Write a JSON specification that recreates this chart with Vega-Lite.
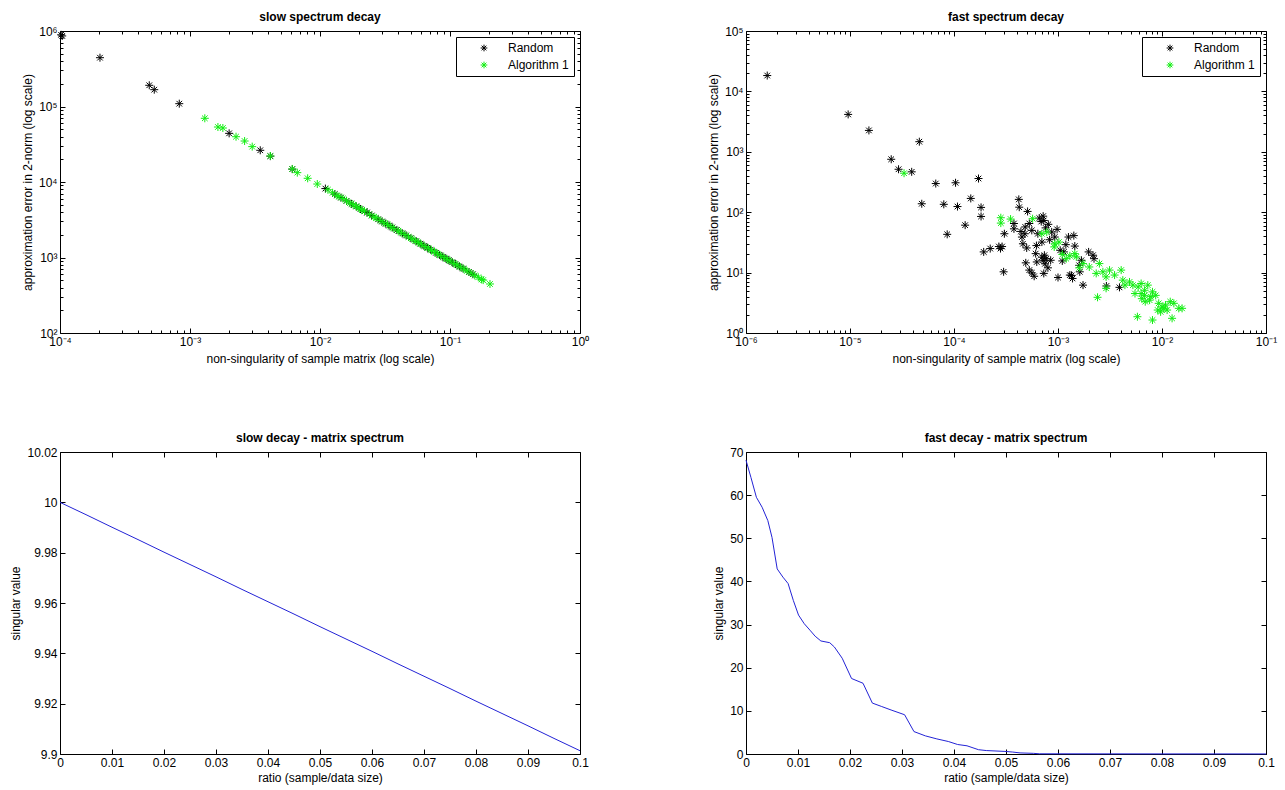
{
  "$schema": "https://vega.github.io/schema/vega-lite/v6.json",
  "padding": {"left": 9, "top": 10, "right": 5, "bottom": 5},
  "config": {
    "font": "Liberation Sans",
    "view": {"stroke": "black", "strokeWidth": 1},
    "axis": {
      "domain": false, "grid": false,
      "labelFont": "Liberation Sans", "labelFontSize": 12, "labelColor": "black",
      "titleFont": "Liberation Sans", "titleFontSize": 12, "titleFontWeight": "normal", "titleColor": "black",
      "tickColor": "black", "tickSize": -5, "labelPadding": 8, "titlePadding": 4,
      "labelFlush": false, "labelOverlap": false
    },
    "title": {"font": "Liberation Sans", "fontSize": 12, "fontWeight": "bold", "color": "black", "offset": 1, "anchor": "middle"},
    "legend": {
      "orient": "top-right", "offset": 6, "title": null,
      "strokeColor": "black", "fillColor": "white", "padding": 5,
      "symbolType": "M-1,0L1,0M0,-1L0,1M-0.7,-0.7L0.7,0.7M-0.7,0.7L0.7,-0.7",
      "symbolSize": 45, "symbolStrokeWidth": 1, "symbolOffset": 17, "labelOffset": 18,
      "labelFont": "Liberation Sans", "labelFontSize": 12, "labelColor": "black", "rowPadding": 5
    }
  },
  "datasets": {
    "slowErr": [
      {"ns": 0.000102, "err": 890000, "method": "Random"},
      {"ns": 0.000104, "err": 860000, "method": "Random"},
      {"ns": 0.000203, "err": 443000, "method": "Random"},
      {"ns": 0.000486, "err": 191000, "method": "Random"},
      {"ns": 0.000531, "err": 167000, "method": "Random"},
      {"ns": 0.000827, "err": 109000, "method": "Random"},
      {"ns": 0.0020, "err": 44100, "method": "Random"},
      {"ns": 0.00347, "err": 26300, "method": "Random"},
      {"ns": 0.00415, "err": 22000, "method": "Random"},
      {"ns": 0.00612, "err": 14800, "method": "Random"},
      {"ns": 0.011, "err": 8180, "method": "Random"},
      {"ns": 0.013, "err": 6920, "method": "Random"},
      {"ns": 0.0145, "err": 6210, "method": "Random"},
      {"ns": 0.016, "err": 5620, "method": "Random"},
      {"ns": 0.0175, "err": 5140, "method": "Random"},
      {"ns": 0.019, "err": 4740, "method": "Random"},
      {"ns": 0.0205, "err": 4390, "method": "Random"},
      {"ns": 0.022, "err": 4090, "method": "Random"},
      {"ns": 0.023, "err": 3950, "method": "Random"},
      {"ns": 0.025, "err": 3600, "method": "Random"},
      {"ns": 0.028, "err": 3210, "method": "Random"},
      {"ns": 0.030, "err": 3000, "method": "Random"},
      {"ns": 0.032, "err": 2810, "method": "Random"},
      {"ns": 0.034, "err": 2650, "method": "Random"},
      {"ns": 0.036, "err": 2500, "method": "Random"},
      {"ns": 0.039, "err": 2310, "method": "Random"},
      {"ns": 0.043, "err": 2090, "method": "Random"},
      {"ns": 0.046, "err": 1960, "method": "Random"},
      {"ns": 0.050, "err": 1800, "method": "Random"},
      {"ns": 0.055, "err": 1640, "method": "Random"},
      {"ns": 0.059, "err": 1525, "method": "Random"},
      {"ns": 0.063, "err": 1430, "method": "Random"},
      {"ns": 0.067, "err": 1345, "method": "Random"},
      {"ns": 0.071, "err": 1270, "method": "Random"},
      {"ns": 0.078, "err": 1155, "method": "Random"},
      {"ns": 0.083, "err": 1085, "method": "Random"},
      {"ns": 0.088, "err": 1023, "method": "Random"},
      {"ns": 0.093, "err": 968, "method": "Random"},
      {"ns": 0.098, "err": 918, "method": "Random"},
      {"ns": 0.104, "err": 865, "method": "Random"},
      {"ns": 0.110, "err": 818, "method": "Random"},
      {"ns": 0.118, "err": 763, "method": "Random"},
      {"ns": 0.126, "err": 714, "method": "Random"},
      {"ns": 0.140, "err": 643, "method": "Random"},
      {"ns": 0.150, "err": 600, "method": "Random"},
      {"ns": 0.0013, "err": 69800, "method": "Algorithm 1"},
      {"ns": 0.00164, "err": 53500, "method": "Algorithm 1"},
      {"ns": 0.00179, "err": 51900, "method": "Algorithm 1"},
      {"ns": 0.00226, "err": 39800, "method": "Algorithm 1"},
      {"ns": 0.00263, "err": 34900, "method": "Algorithm 1"},
      {"ns": 0.00301, "err": 29400, "method": "Algorithm 1"},
      {"ns": 0.00415, "err": 22100, "method": "Algorithm 1"},
      {"ns": 0.00612, "err": 14900, "method": "Algorithm 1"},
      {"ns": 0.00669, "err": 13300, "method": "Algorithm 1"},
      {"ns": 0.00804, "err": 11200, "method": "Algorithm 1"},
      {"ns": 0.00953, "err": 9400, "method": "Algorithm 1"},
      {"ns": 0.0115, "err": 7900, "method": "Algorithm 1"},
      {"ns": 0.0125, "err": 7200, "method": "Algorithm 1"},
      {"ns": 0.0135, "err": 6600, "method": "Algorithm 1"},
      {"ns": 0.014, "err": 6430, "method": "Algorithm 1"},
      {"ns": 0.015, "err": 6050, "method": "Algorithm 1"},
      {"ns": 0.016, "err": 5630, "method": "Algorithm 1"},
      {"ns": 0.017, "err": 5250, "method": "Algorithm 1"},
      {"ns": 0.018, "err": 5000, "method": "Algorithm 1"},
      {"ns": 0.019, "err": 4780, "method": "Algorithm 1"},
      {"ns": 0.020, "err": 4500, "method": "Algorithm 1"},
      {"ns": 0.021, "err": 4260, "method": "Algorithm 1"},
      {"ns": 0.022, "err": 4120, "method": "Algorithm 1"},
      {"ns": 0.024, "err": 3750, "method": "Algorithm 1"},
      {"ns": 0.026, "err": 3430, "method": "Algorithm 1"},
      {"ns": 0.027, "err": 3360, "method": "Algorithm 1"},
      {"ns": 0.029, "err": 3100, "method": "Algorithm 1"},
      {"ns": 0.031, "err": 2880, "method": "Algorithm 1"},
      {"ns": 0.033, "err": 2750, "method": "Algorithm 1"},
      {"ns": 0.035, "err": 2570, "method": "Algorithm 1"},
      {"ns": 0.037, "err": 2410, "method": "Algorithm 1"},
      {"ns": 0.040, "err": 2260, "method": "Algorithm 1"},
      {"ns": 0.042, "err": 2130, "method": "Algorithm 1"},
      {"ns": 0.045, "err": 2010, "method": "Algorithm 1"},
      {"ns": 0.048, "err": 1870, "method": "Algorithm 1"},
      {"ns": 0.051, "err": 1770, "method": "Algorithm 1"},
      {"ns": 0.054, "err": 1660, "method": "Algorithm 1"},
      {"ns": 0.057, "err": 1585, "method": "Algorithm 1"},
      {"ns": 0.060, "err": 1500, "method": "Algorithm 1"},
      {"ns": 0.064, "err": 1400, "method": "Algorithm 1"},
      {"ns": 0.068, "err": 1330, "method": "Algorithm 1"},
      {"ns": 0.072, "err": 1245, "method": "Algorithm 1"},
      {"ns": 0.076, "err": 1190, "method": "Algorithm 1"},
      {"ns": 0.080, "err": 1120, "method": "Algorithm 1"},
      {"ns": 0.085, "err": 1065, "method": "Algorithm 1"},
      {"ns": 0.090, "err": 995, "method": "Algorithm 1"},
      {"ns": 0.095, "err": 950, "method": "Algorithm 1"},
      {"ns": 0.100, "err": 900, "method": "Algorithm 1"},
      {"ns": 0.107, "err": 838, "method": "Algorithm 1"},
      {"ns": 0.113, "err": 799, "method": "Algorithm 1"},
      {"ns": 0.120, "err": 748, "method": "Algorithm 1"},
      {"ns": 0.128, "err": 705, "method": "Algorithm 1"},
      {"ns": 0.135, "err": 664, "method": "Algorithm 1"},
      {"ns": 0.145, "err": 623, "method": "Algorithm 1"},
      {"ns": 0.155, "err": 579, "method": "Algorithm 1"},
      {"ns": 0.165, "err": 547, "method": "Algorithm 1"},
      {"ns": 0.175, "err": 512, "method": "Algorithm 1"},
      {"ns": 0.180, "err": 502, "method": "Algorithm 1"},
      {"ns": 0.203, "err": 446, "method": "Algorithm 1"}
    ],
    "fastErr": [
      {"ns": 0.0000016, "err": 18300, "method": "Random"},
      {"ns": 0.0000096, "err": 4160, "method": "Random"},
      {"ns": 0.0000152, "err": 2260, "method": "Random"},
      {"ns": 0.0000464, "err": 1470, "method": "Random"},
      {"ns": 0.0000249, "err": 752, "method": "Random"},
      {"ns": 0.0000293, "err": 514, "method": "Random"},
      {"ns": 0.0000392, "err": 466, "method": "Random"},
      {"ns": 0.0000668, "err": 298, "method": "Random"},
      {"ns": 0.0001035, "err": 307, "method": "Random"},
      {"ns": 0.000172, "err": 361, "method": "Random"},
      {"ns": 0.000145, "err": 169, "method": "Random"},
      {"ns": 0.00042, "err": 163, "method": "Random"},
      {"ns": 0.000049, "err": 138, "method": "Random"},
      {"ns": 0.0000798, "err": 135, "method": "Random"},
      {"ns": 0.000108, "err": 124, "method": "Random"},
      {"ns": 0.000182, "err": 120, "method": "Random"},
      {"ns": 0.000182, "err": 85, "method": "Random"},
      {"ns": 0.000128, "err": 61, "method": "Random"},
      {"ns": 0.000086, "err": 43, "method": "Random"},
      {"ns": 0.000424, "err": 121, "method": "Random"},
      {"ns": 0.00051, "err": 103, "method": "Random"},
      {"ns": 0.000377, "err": 65, "method": "Random"},
      {"ns": 0.000377, "err": 53, "method": "Random"},
      {"ns": 0.000305, "err": 44, "method": "Random"},
      {"ns": 0.00072, "err": 86, "method": "Random"},
      {"ns": 0.00073, "err": 73, "method": "Random"},
      {"ns": 0.000807, "err": 63, "method": "Random"},
      {"ns": 0.000484, "err": 57, "method": "Random"},
      {"ns": 0.00048, "err": 44, "method": "Random"},
      {"ns": 0.00056, "err": 50, "method": "Random"},
      {"ns": 0.00064, "err": 44, "method": "Random"},
      {"ns": 0.00087, "err": 47, "method": "Random"},
      {"ns": 0.00045, "err": 38.8, "method": "Random"},
      {"ns": 0.00046, "err": 30, "method": "Random"},
      {"ns": 0.0005, "err": 25.6, "method": "Random"},
      {"ns": 0.0007, "err": 32, "method": "Random"},
      {"ns": 0.00093, "err": 38.8, "method": "Random"},
      {"ns": 0.00119, "err": 29, "method": "Random"},
      {"ns": 0.000223, "err": 25, "method": "Random"},
      {"ns": 0.000193, "err": 22, "method": "Random"},
      {"ns": 0.00027, "err": 27, "method": "Random"},
      {"ns": 0.00029, "err": 27, "method": "Random"},
      {"ns": 0.00028, "err": 25, "method": "Random"},
      {"ns": 0.0003, "err": 10.3, "method": "Random"},
      {"ns": 0.00061, "err": 20.6, "method": "Random"},
      {"ns": 0.00074, "err": 19.4, "method": "Random"},
      {"ns": 0.00072, "err": 16, "method": "Random"},
      {"ns": 0.00077, "err": 17, "method": "Random"},
      {"ns": 0.00049, "err": 14.5, "method": "Random"},
      {"ns": 0.000625, "err": 15, "method": "Random"},
      {"ns": 0.00085, "err": 16, "method": "Random"},
      {"ns": 0.0011, "err": 15.6, "method": "Random"},
      {"ns": 0.00105, "err": 23.4, "method": "Random"},
      {"ns": 0.00114, "err": 22, "method": "Random"},
      {"ns": 0.00056, "err": 9.9, "method": "Random"},
      {"ns": 0.00059, "err": 8.7, "method": "Random"},
      {"ns": 0.00053, "err": 11, "method": "Random"},
      {"ns": 0.00073, "err": 9.7, "method": "Random"},
      {"ns": 0.001, "err": 8.3, "method": "Random"},
      {"ns": 0.0013, "err": 9.1, "method": "Random"},
      {"ns": 0.00126, "err": 38.8, "method": "Random"},
      {"ns": 0.00142, "err": 41, "method": "Random"},
      {"ns": 0.00145, "err": 27.5, "method": "Random"},
      {"ns": 0.00135, "err": 9, "method": "Random"},
      {"ns": 0.00138, "err": 8, "method": "Random"},
      {"ns": 0.00174, "err": 6.2, "method": "Random"},
      {"ns": 0.00197, "err": 22, "method": "Random"},
      {"ns": 0.00217, "err": 19.4, "method": "Random"},
      {"ns": 0.00222, "err": 17, "method": "Random"},
      {"ns": 0.00168, "err": 16, "method": "Random"},
      {"ns": 0.0016, "err": 13.2, "method": "Random"},
      {"ns": 0.00162, "err": 10.3, "method": "Random"},
      {"ns": 0.0039, "err": 5.7, "method": "Random"},
      {"ns": 0.00292, "err": 6.0, "method": "Random"},
      {"ns": 0.00066, "err": 80, "method": "Random"},
      {"ns": 0.00069, "err": 70, "method": "Random"},
      {"ns": 0.00076, "err": 55, "method": "Random"},
      {"ns": 0.00083, "err": 35, "method": "Random"},
      {"ns": 0.00062, "err": 28, "method": "Random"},
      {"ns": 0.0007, "err": 18, "method": "Random"},
      {"ns": 0.00075, "err": 14, "method": "Random"},
      {"ns": 0.0008, "err": 12, "method": "Random"},
      {"ns": 0.00053, "err": 65, "method": "Random"},
      {"ns": 0.00044, "err": 48, "method": "Random"},
      {"ns": 0.00098, "err": 52, "method": "Random"},
      {"ns": 0.0000331, "err": 442, "method": "Algorithm 1"},
      {"ns": 0.000282, "err": 81, "method": "Algorithm 1"},
      {"ns": 0.000282, "err": 66, "method": "Algorithm 1"},
      {"ns": 0.00035, "err": 77, "method": "Algorithm 1"},
      {"ns": 0.00057, "err": 78, "method": "Algorithm 1"},
      {"ns": 0.000698, "err": 44, "method": "Algorithm 1"},
      {"ns": 0.00078, "err": 47, "method": "Algorithm 1"},
      {"ns": 0.00102, "err": 32, "method": "Algorithm 1"},
      {"ns": 0.00092, "err": 26.6, "method": "Algorithm 1"},
      {"ns": 0.00093, "err": 30, "method": "Algorithm 1"},
      {"ns": 0.0011, "err": 20, "method": "Algorithm 1"},
      {"ns": 0.0012, "err": 17, "method": "Algorithm 1"},
      {"ns": 0.0013, "err": 19, "method": "Algorithm 1"},
      {"ns": 0.00145, "err": 20.6, "method": "Algorithm 1"},
      {"ns": 0.0015, "err": 18.2, "method": "Algorithm 1"},
      {"ns": 0.0016, "err": 12, "method": "Algorithm 1"},
      {"ns": 0.00174, "err": 14.1, "method": "Algorithm 1"},
      {"ns": 0.002, "err": 12.4, "method": "Algorithm 1"},
      {"ns": 0.0025, "err": 14.1, "method": "Algorithm 1"},
      {"ns": 0.00233, "err": 9.7, "method": "Algorithm 1"},
      {"ns": 0.0027, "err": 10.3, "method": "Algorithm 1"},
      {"ns": 0.00313, "err": 11, "method": "Algorithm 1"},
      {"ns": 0.0029, "err": 8.5, "method": "Algorithm 1"},
      {"ns": 0.0035, "err": 9.1, "method": "Algorithm 1"},
      {"ns": 0.00405, "err": 11, "method": "Algorithm 1"},
      {"ns": 0.0042, "err": 7.5, "method": "Algorithm 1"},
      {"ns": 0.0029, "err": 5.5, "method": "Algorithm 1"},
      {"ns": 0.00487, "err": 7.0, "method": "Algorithm 1"},
      {"ns": 0.0044, "err": 6.2, "method": "Algorithm 1"},
      {"ns": 0.0024, "err": 3.9, "method": "Algorithm 1"},
      {"ns": 0.00525, "err": 6.2, "method": "Algorithm 1"},
      {"ns": 0.0059, "err": 5.8, "method": "Algorithm 1"},
      {"ns": 0.0063, "err": 6.6, "method": "Algorithm 1"},
      {"ns": 0.0068, "err": 5.1, "method": "Algorithm 1"},
      {"ns": 0.0073, "err": 6.2, "method": "Algorithm 1"},
      {"ns": 0.0081, "err": 4.8, "method": "Algorithm 1"},
      {"ns": 0.0087, "err": 4.2, "method": "Algorithm 1"},
      {"ns": 0.0078, "err": 4.0, "method": "Algorithm 1"},
      {"ns": 0.0064, "err": 3.7, "method": "Algorithm 1"},
      {"ns": 0.0069, "err": 3.3, "method": "Algorithm 1"},
      {"ns": 0.0058, "err": 1.86, "method": "Algorithm 1"},
      {"ns": 0.0081, "err": 1.64, "method": "Algorithm 1"},
      {"ns": 0.0091, "err": 2.4, "method": "Algorithm 1"},
      {"ns": 0.0093, "err": 3.1, "method": "Algorithm 1"},
      {"ns": 0.010, "err": 2.7, "method": "Algorithm 1"},
      {"ns": 0.0108, "err": 2.9, "method": "Algorithm 1"},
      {"ns": 0.0112, "err": 2.4, "method": "Algorithm 1"},
      {"ns": 0.012, "err": 3.3, "method": "Algorithm 1"},
      {"ns": 0.013, "err": 3.1, "method": "Algorithm 1"},
      {"ns": 0.0145, "err": 2.56, "method": "Algorithm 1"},
      {"ns": 0.0125, "err": 1.75, "method": "Algorithm 1"},
      {"ns": 0.0097, "err": 2.24, "method": "Algorithm 1"},
      {"ns": 0.0104, "err": 2.56, "method": "Algorithm 1"},
      {"ns": 0.0156, "err": 2.56, "method": "Algorithm 1"},
      {"ns": 0.0068, "err": 4.2, "method": "Algorithm 1"},
      {"ns": 0.0076, "err": 3.5, "method": "Algorithm 1"},
      {"ns": 0.0055, "err": 4.5, "method": "Algorithm 1"},
      {"ns": 0.0063, "err": 4.5, "method": "Algorithm 1"}
    ],
    "slowSpec": [
      {"ratio": 0, "sv": 10.0}, {"ratio": 0.005, "sv": 9.9951}, {"ratio": 0.01, "sv": 9.9901},
      {"ratio": 0.015, "sv": 9.9852}, {"ratio": 0.02, "sv": 9.9802}, {"ratio": 0.025, "sv": 9.9753},
      {"ratio": 0.03, "sv": 9.9704}, {"ratio": 0.035, "sv": 9.9654}, {"ratio": 0.04, "sv": 9.9605},
      {"ratio": 0.045, "sv": 9.9556}, {"ratio": 0.05, "sv": 9.9506}, {"ratio": 0.055, "sv": 9.9457},
      {"ratio": 0.06, "sv": 9.9408}, {"ratio": 0.065, "sv": 9.9358}, {"ratio": 0.07, "sv": 9.9309},
      {"ratio": 0.075, "sv": 9.926}, {"ratio": 0.08, "sv": 9.921}, {"ratio": 0.085, "sv": 9.9161},
      {"ratio": 0.09, "sv": 9.9112}, {"ratio": 0.095, "sv": 9.9062}, {"ratio": 0.1, "sv": 9.9013}
    ],
    "fastSpec": [
      {"ratio": 0, "sv": 68.1}, {"ratio": 0.00095, "sv": 64.1}, {"ratio": 0.002, "sv": 59.5},
      {"ratio": 0.0031, "sv": 57.2}, {"ratio": 0.0042, "sv": 54.1}, {"ratio": 0.005, "sv": 50.2},
      {"ratio": 0.006, "sv": 42.9}, {"ratio": 0.0071, "sv": 41.0}, {"ratio": 0.0081, "sv": 39.5},
      {"ratio": 0.0091, "sv": 35.6}, {"ratio": 0.0101, "sv": 32.2}, {"ratio": 0.0112, "sv": 30.2},
      {"ratio": 0.0123, "sv": 28.7}, {"ratio": 0.0133, "sv": 27.3}, {"ratio": 0.0144, "sv": 26.2},
      {"ratio": 0.0161, "sv": 25.8}, {"ratio": 0.017, "sv": 24.8}, {"ratio": 0.0185, "sv": 22.2},
      {"ratio": 0.0203, "sv": 17.5}, {"ratio": 0.0225, "sv": 16.4}, {"ratio": 0.0243, "sv": 11.8},
      {"ratio": 0.0261, "sv": 11.0}, {"ratio": 0.0279, "sv": 10.2}, {"ratio": 0.0305, "sv": 9.1},
      {"ratio": 0.0323, "sv": 5.2}, {"ratio": 0.0345, "sv": 4.2}, {"ratio": 0.0367, "sv": 3.5},
      {"ratio": 0.0389, "sv": 2.9}, {"ratio": 0.0407, "sv": 2.2}, {"ratio": 0.0425, "sv": 1.9},
      {"ratio": 0.0447, "sv": 1.0}, {"ratio": 0.0462, "sv": 0.8}, {"ratio": 0.0498, "sv": 0.6},
      {"ratio": 0.0513, "sv": 0.45}, {"ratio": 0.0527, "sv": 0.25}, {"ratio": 0.0553, "sv": 0.15},
      {"ratio": 0.0564, "sv": 0.05}, {"ratio": 0.06, "sv": 0.04}, {"ratio": 0.07, "sv": 0.03},
      {"ratio": 0.08, "sv": 0.02}, {"ratio": 0.09, "sv": 0.02}, {"ratio": 0.1, "sv": 0.01}
    ]
  },
  "columns": 2,
  "spacing": {"row": 119, "column": 166},
  "bounds": "flush",
  "resolve": {"scale": {"color": "independent"}, "legend": {"color": "independent"}},
  "concat": [
    {
      "width": 520, "height": 302,
      "title": "slow spectrum decay",
      "data": {"name": "slowErr"},
      "layer": [
        {
          "mark": {"type": "point", "shape": "M-1,0L1,0M0,-1L0,1M-0.7,-0.7L0.7,0.7M-0.7,0.7L0.7,-0.7", "filled": false, "size": 64, "strokeWidth": 1, "opacity": 1},
          "encoding": {
            "x": {"field": "ns", "type": "quantitative", "scale": {"type": "log", "domain": [0.0001, 1], "nice": false},
              "axis": {"orient": "bottom", "title": "non-singularity of sample matrix (log scale)",
                "values": [0.0001,0.0002,0.0003,0.0004,0.0005,0.0006,0.0007,0.0008,0.0009,0.001,0.002,0.003,0.004,0.005,0.006,0.007,0.008,0.009,0.01,0.02,0.03,0.04,0.05,0.06,0.07,0.08,0.09,0.1,0.2,0.3,0.4,0.5,0.6,0.7,0.8,0.9,1],
                "tickSize": {"condition": {"test": "abs(log(datum.value)/LN10 - round(log(datum.value)/LN10)) < 0.01", "value": -5}, "value": -3},
                "labelExpr": "abs(log(datum.value)/LN10 - round(log(datum.value)/LN10)) < 0.01 ? '10' + {'-6':'⁻⁶','-5':'⁻⁵','-4':'⁻⁴','-3':'⁻³','-2':'⁻²','-1':'⁻¹','0':'⁰','1':'¹','2':'²','3':'³','4':'⁴','5':'⁵','6':'⁶'}['' + round(log(datum.value)/LN10)] : ''"}},
            "y": {"field": "err", "type": "quantitative", "scale": {"type": "log", "domain": [100, 1000000], "nice": false},
              "axis": {"orient": "left", "title": "approximation error in 2-norm (log scale)",
                "values": [100,200,300,400,500,600,700,800,900,1000,2000,3000,4000,5000,6000,7000,8000,9000,10000,20000,30000,40000,50000,60000,70000,80000,90000,100000,200000,300000,400000,500000,600000,700000,800000,900000,1000000],
                "tickSize": {"condition": {"test": "abs(log(datum.value)/LN10 - round(log(datum.value)/LN10)) < 0.01", "value": -5}, "value": -3},
                "labelExpr": "abs(log(datum.value)/LN10 - round(log(datum.value)/LN10)) < 0.01 ? '10' + {'-6':'⁻⁶','-5':'⁻⁵','-4':'⁻⁴','-3':'⁻³','-2':'⁻²','-1':'⁻¹','0':'⁰','1':'¹','2':'²','3':'³','4':'⁴','5':'⁵','6':'⁶'}['' + round(log(datum.value)/LN10)] : ''"}},
            "color": {"field": "method", "type": "nominal", "sort": null,
              "scale": {"domain": ["Random", "Algorithm 1"], "range": ["#000000", "#11ee11"]},
              "legend": {"title": null}}
          }
        },
        {
          "mark": {"type": "point", "opacity": 0},
          "encoding": {
            "x": {"field": "ns", "type": "quantitative", "scale": {"type": "log", "domain": [0.0001, 1], "nice": false},
              "axis": {"orient": "top", "title": null, "labels": false,
                "values": [0.0001,0.0002,0.0003,0.0004,0.0005,0.0006,0.0007,0.0008,0.0009,0.001,0.002,0.003,0.004,0.005,0.006,0.007,0.008,0.009,0.01,0.02,0.03,0.04,0.05,0.06,0.07,0.08,0.09,0.1,0.2,0.3,0.4,0.5,0.6,0.7,0.8,0.9,1],
                "tickSize": {"condition": {"test": "abs(log(datum.value)/LN10 - round(log(datum.value)/LN10)) < 0.01", "value": -5}, "value": -3}}},
            "y": {"field": "err", "type": "quantitative", "scale": {"type": "log", "domain": [100, 1000000], "nice": false},
              "axis": {"orient": "right", "title": null, "labels": false,
                "values": [100,200,300,400,500,600,700,800,900,1000,2000,3000,4000,5000,6000,7000,8000,9000,10000,20000,30000,40000,50000,60000,70000,80000,90000,100000,200000,300000,400000,500000,600000,700000,800000,900000,1000000],
                "tickSize": {"condition": {"test": "abs(log(datum.value)/LN10 - round(log(datum.value)/LN10)) < 0.01", "value": -5}, "value": -3}}}
          }
        }
      ]
    },
    {
      "width": 520, "height": 302,
      "title": "fast spectrum decay",
      "data": {"name": "fastErr"},
      "layer": [
        {
          "mark": {"type": "point", "shape": "M-1,0L1,0M0,-1L0,1M-0.7,-0.7L0.7,0.7M-0.7,0.7L0.7,-0.7", "filled": false, "size": 64, "strokeWidth": 1, "opacity": 1},
          "encoding": {
            "x": {"field": "ns", "type": "quantitative", "scale": {"type": "log", "domain": [0.000001, 0.1], "nice": false},
              "axis": {"orient": "bottom", "title": "non-singularity of sample matrix (log scale)",
                "values": [0.000001,0.000002,0.000003,0.000004,0.000005,0.000006,0.000007,0.000008,0.000009,0.00001,0.00002,0.00003,0.00004,0.00005,0.00006,0.00007,0.00008,0.00009,0.0001,0.0002,0.0003,0.0004,0.0005,0.0006,0.0007,0.0008,0.0009,0.001,0.002,0.003,0.004,0.005,0.006,0.007,0.008,0.009,0.01,0.02,0.03,0.04,0.05,0.06,0.07,0.08,0.09,0.1],
                "tickSize": {"condition": {"test": "abs(log(datum.value)/LN10 - round(log(datum.value)/LN10)) < 0.01", "value": -5}, "value": -3},
                "labelExpr": "abs(log(datum.value)/LN10 - round(log(datum.value)/LN10)) < 0.01 ? '10' + {'-6':'⁻⁶','-5':'⁻⁵','-4':'⁻⁴','-3':'⁻³','-2':'⁻²','-1':'⁻¹','0':'⁰','1':'¹','2':'²','3':'³','4':'⁴','5':'⁵','6':'⁶'}['' + round(log(datum.value)/LN10)] : ''"}},
            "y": {"field": "err", "type": "quantitative", "scale": {"type": "log", "domain": [1, 100000], "nice": false},
              "axis": {"orient": "left", "title": "approximation error in 2-norm (log scale)",
                "values": [1,2,3,4,5,6,7,8,9,10,20,30,40,50,60,70,80,90,100,200,300,400,500,600,700,800,900,1000,2000,3000,4000,5000,6000,7000,8000,9000,10000,20000,30000,40000,50000,60000,70000,80000,90000,100000],
                "tickSize": {"condition": {"test": "abs(log(datum.value)/LN10 - round(log(datum.value)/LN10)) < 0.01", "value": -5}, "value": -3},
                "labelExpr": "abs(log(datum.value)/LN10 - round(log(datum.value)/LN10)) < 0.01 ? '10' + {'-6':'⁻⁶','-5':'⁻⁵','-4':'⁻⁴','-3':'⁻³','-2':'⁻²','-1':'⁻¹','0':'⁰','1':'¹','2':'²','3':'³','4':'⁴','5':'⁵','6':'⁶'}['' + round(log(datum.value)/LN10)] : ''"}},
            "color": {"field": "method", "type": "nominal", "sort": null,
              "scale": {"domain": ["Random", "Algorithm 1"], "range": ["#000000", "#11ee11"]},
              "legend": {"title": null}}
          }
        },
        {
          "mark": {"type": "point", "opacity": 0},
          "encoding": {
            "x": {"field": "ns", "type": "quantitative", "scale": {"type": "log", "domain": [0.000001, 0.1], "nice": false},
              "axis": {"orient": "top", "title": null, "labels": false,
                "values": [0.000001,0.000002,0.000003,0.000004,0.000005,0.000006,0.000007,0.000008,0.000009,0.00001,0.00002,0.00003,0.00004,0.00005,0.00006,0.00007,0.00008,0.00009,0.0001,0.0002,0.0003,0.0004,0.0005,0.0006,0.0007,0.0008,0.0009,0.001,0.002,0.003,0.004,0.005,0.006,0.007,0.008,0.009,0.01,0.02,0.03,0.04,0.05,0.06,0.07,0.08,0.09,0.1],
                "tickSize": {"condition": {"test": "abs(log(datum.value)/LN10 - round(log(datum.value)/LN10)) < 0.01", "value": -5}, "value": -3}}},
            "y": {"field": "err", "type": "quantitative", "scale": {"type": "log", "domain": [1, 100000], "nice": false},
              "axis": {"orient": "right", "title": null, "labels": false,
                "values": [1,2,3,4,5,6,7,8,9,10,20,30,40,50,60,70,80,90,100,200,300,400,500,600,700,800,900,1000,2000,3000,4000,5000,6000,7000,8000,9000,10000,20000,30000,40000,50000,60000,70000,80000,90000,100000],
                "tickSize": {"condition": {"test": "abs(log(datum.value)/LN10 - round(log(datum.value)/LN10)) < 0.01", "value": -5}, "value": -3}}}
          }
        }
      ]
    },
    {
      "width": 520, "height": 302,
      "title": "slow decay - matrix spectrum",
      "data": {"name": "slowSpec"},
      "layer": [
        {
          "mark": {"type": "line", "color": "#2323d6", "strokeWidth": 1},
          "encoding": {
            "x": {"field": "ratio", "type": "quantitative", "scale": {"domain": [0, 0.1], "nice": false, "zero": false},
              "axis": {"orient": "bottom", "title": "ratio (sample/data size)", "values": [0,0.01,0.02,0.03,0.04,0.05,0.06,0.07,0.08,0.09,0.1], "format": "~r"}},
            "y": {"field": "sv", "type": "quantitative", "scale": {"domain": [9.9, 10.02], "nice": false, "zero": false},
              "axis": {"orient": "left", "title": "singular value", "values": [9.9,9.92,9.94,9.96,9.98,10,10.02], "format": "~r"}}
          }
        },
        {
          "mark": {"type": "line", "opacity": 0},
          "encoding": {
            "x": {"field": "ratio", "type": "quantitative", "scale": {"domain": [0, 0.1], "nice": false, "zero": false},
              "axis": {"orient": "top", "title": null, "labels": false, "values": [0,0.01,0.02,0.03,0.04,0.05,0.06,0.07,0.08,0.09,0.1]}},
            "y": {"field": "sv", "type": "quantitative", "scale": {"domain": [9.9, 10.02], "nice": false, "zero": false},
              "axis": {"orient": "right", "title": null, "labels": false, "values": [9.9,9.92,9.94,9.96,9.98,10,10.02]}}
          }
        }
      ]
    },
    {
      "width": 520, "height": 302,
      "title": "fast decay - matrix spectrum",
      "data": {"name": "fastSpec"},
      "layer": [
        {
          "mark": {"type": "line", "color": "#2323d6", "strokeWidth": 1},
          "encoding": {
            "x": {"field": "ratio", "type": "quantitative", "scale": {"domain": [0, 0.1], "nice": false, "zero": false},
              "axis": {"orient": "bottom", "title": "ratio (sample/data size)", "values": [0,0.01,0.02,0.03,0.04,0.05,0.06,0.07,0.08,0.09,0.1], "format": "~r"}},
            "y": {"field": "sv", "type": "quantitative", "scale": {"domain": [0, 70], "nice": false},
              "axis": {"orient": "left", "title": "singular value", "values": [0,10,20,30,40,50,60,70], "format": "~r"}}
          }
        },
        {
          "mark": {"type": "line", "opacity": 0},
          "encoding": {
            "x": {"field": "ratio", "type": "quantitative", "scale": {"domain": [0, 0.1], "nice": false, "zero": false},
              "axis": {"orient": "top", "title": null, "labels": false, "values": [0,0.01,0.02,0.03,0.04,0.05,0.06,0.07,0.08,0.09,0.1]}},
            "y": {"field": "sv", "type": "quantitative", "scale": {"domain": [0, 70], "nice": false},
              "axis": {"orient": "right", "title": null, "labels": false, "values": [0,10,20,30,40,50,60,70]}}
          }
        }
      ]
    }
  ]
}
